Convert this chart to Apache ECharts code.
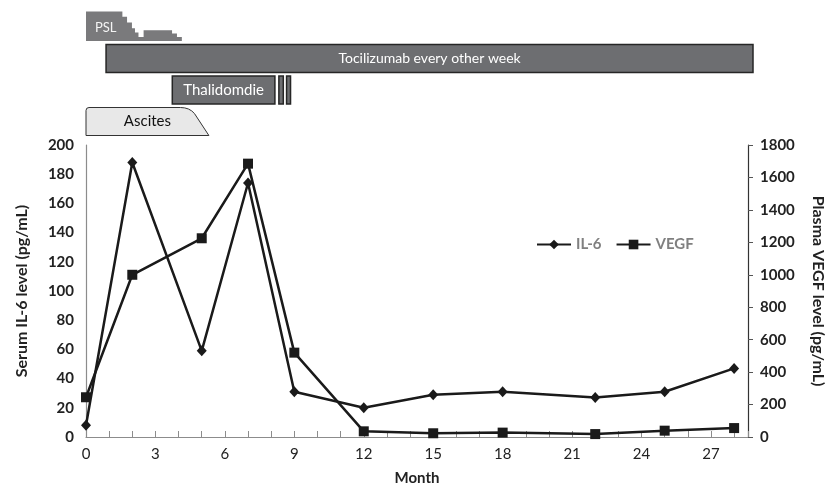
<!DOCTYPE html>
<html>
<head>
<meta charset="utf-8">
<script src="https://cdn.jsdelivr.net/npm/echarts@6/dist/echarts.min.js"></script>
<style>
  html, body { margin: 0; padding: 0; background: #fff; }
  #chart { width: 834px; height: 494px; }
</style>
</head>
<body>
<div id="chart"></div>
<script>
// measured values (month of sample)
const months = [0, 2, 5, 7, 9, 12, 15, 18, 22, 25, 28];
const il6 = [8, 188, 59, 174, 31, 20, 29, 31, 27, 31, 47];
const vegf = [245, 1000, 1225, 1685, 520, 35, 23, 27, 18, 39, 55];

// treatment timeline (months)
const treatmentRows = ['PSL', 'Tocilizumab', 'Thalidomide', 'Ascites'];
const pslSteps = [ // [from, to, dose]
    [0, 1.56, 30], [1.56, 1.76, 24.5], [1.76, 1.97, 18.7], [1.97, 2.1, 13],
    [2.1, 2.25, 8.5], [2.25, 2.47, 4], [2.47, 3.69, 11], [3.69, 3.9, 7.5], [3.9, 4.11, 4]
];
const tocilizumab = [0.86, 28.6];
const thalidomide = [[3.7, 8.1], [8.27, 8.46], [8.6, 8.77]];
const ascites = [0, 4.05, 5.27]; // start, plateau end, resolved

const X_MAX = 28.6;
const FONT = 'Lato';
const BAR_FILL = '#6d6e71';
const BAR_STROKE = '#262626';

const chart = echarts.init(document.getElementById('chart'));

// helpers for the timeline rows
const rowBox = (api, row) => {
    const c = api.coord([0, row]);
    const band = api.size([0, 1])[1];
    const bottom = c[1] + band / 2 - 0.5;
    return { bottom, top: bottom - 28, band };
};
const xPix = (api, v) => api.coord([v, 0])[0];

const renderPSL = (params, api) => {
    const b = rowBox(api, 0);
    const unit = b.band * 0.94 / 30;
    const pts = [[xPix(api, pslSteps[0][0]), b.bottom]];
    pslSteps.forEach(s => {
        pts.push([xPix(api, s[0]), b.bottom - s[2] * unit]);
        pts.push([xPix(api, s[1]), b.bottom - s[2] * unit]);
    });
    pts.push([xPix(api, pslSteps[pslSteps.length - 1][1]), b.bottom]);
    return {
        type: 'group',
        children: [
            { type: 'polygon', shape: { points: pts }, style: { fill: '#7a7a7c' } },
            { type: 'text', style: { text: 'PSL', x: xPix(api, 0) + 9, y: b.bottom - 13, align: 'left', verticalAlign: 'middle', fill: '#f4f4f4', font: '13px ' + FONT } }
        ]
    };
};

const renderToci = (params, api) => {
    const b = rowBox(api, 1);
    const x0 = xPix(api, tocilizumab[0]), x1 = xPix(api, tocilizumab[1]);
    return {
        type: 'group',
        children: [
            { type: 'rect', shape: { x: x0, y: b.top, width: x1 - x0, height: b.bottom - b.top }, style: { fill: BAR_FILL, stroke: BAR_STROKE, lineWidth: 1.5 } },
            { type: 'text', style: { text: 'Tocilizumab every other week', x: (x0 + x1) / 2, y: (b.top + b.bottom) / 2, align: 'center', verticalAlign: 'middle', fill: '#ffffff', font: '14px ' + FONT } }
        ]
    };
};

const renderThal = (params, api) => {
    const b = rowBox(api, 2);
    const children = thalidomide.map(t => {
        const x0 = xPix(api, t[0]), x1 = xPix(api, t[1]);
        return { type: 'rect', shape: { x: x0, y: b.top, width: x1 - x0, height: b.bottom - b.top }, style: { fill: BAR_FILL, stroke: BAR_STROKE, lineWidth: 1.5 } };
    });
    const m0 = xPix(api, thalidomide[0][0]), m1 = xPix(api, thalidomide[0][1]);
    children.push({ type: 'text', style: { text: 'Thalidomdie', x: (m0 + m1) / 2, y: (b.top + b.bottom) / 2, align: 'center', verticalAlign: 'middle', fill: '#ffffff', font: '15px ' + FONT } });
    return { type: 'group', children };
};

const renderAscites = (params, api) => {
    const b = rowBox(api, 3);
    const x0 = xPix(api, ascites[0]), xp = xPix(api, ascites[1]), xe = xPix(api, ascites[2]);
    const t = b.top, bo = b.bottom;
    const path = `M${x0},${bo} L${x0},${t + 3} Q${x0},${t} ${x0 + 3},${t} L${xp},${t} Q${xp + 9},${t} ${xp + 14},${t + 6} L${xe},${bo} Z`;
    return {
        type: 'group',
        children: [
            { type: 'path', shape: { pathData: path }, style: { fill: '#e8e8e8', stroke: '#333', lineWidth: 1 } },
            { type: 'text', style: { text: 'Ascites', x: (x0 + xe) / 2, y: (t + bo) / 2, align: 'center', verticalAlign: 'middle', fill: '#111', font: '15px ' + FONT } }
        ]
    };
};

const timelineSeries = (name, render) => ({
    name, type: 'custom', xAxisIndex: 1, yAxisIndex: 2,
    renderItem: render, data: [[0, 0]], encode: { x: 0, y: 1 },
    silent: true, z: 1
});

chart.setOption({
    animation: false,
    textStyle: { fontFamily: FONT },
    grid: [
        { left: 86, right: 81, top: 145, bottom: 57 },
        { left: 86, right: 81, top: 10, height: 126 }
    ],
    legend: {
        data: ['IL-6', 'VEGF'],
        left: 531, top: 232,
        itemWidth: 34, itemHeight: 12, itemGap: 14,
        textStyle: { fontFamily: FONT, fontWeight: 'bold', fontSize: 15, color: '#808080' }
    },
    xAxis: [
        {
            type: 'value', gridIndex: 0, min: 0, max: X_MAX, interval: 1,
            name: 'Month', nameLocation: 'middle', nameGap: 34,
            nameTextStyle: { fontFamily: FONT, fontWeight: 'bold', fontSize: 15, color: '#222' },
            axisLine: { lineStyle: { color: '#8c8c8c', width: 1.2 } },
            axisTick: { inside: true, length: 6, lineStyle: { color: '#8c8c8c' } },
            axisLabel: { fontSize: 15, color: '#222', margin: 10, formatter: v => (v % 3 === 0 ? String(v) : '') },
            splitLine: { show: false }
        },
        { type: 'value', gridIndex: 1, min: 0, max: X_MAX, show: false }
    ],
    yAxis: [
        {
            type: 'value', gridIndex: 0, min: 0, max: 200, interval: 20,
            name: 'Serum IL-6 level (pg/mL)', nameLocation: 'middle', nameGap: 56, nameRotate: 90,
            nameTextStyle: { fontFamily: FONT, fontWeight: 'bold', fontSize: 16, color: '#222' },
            axisLine: { show: true, lineStyle: { color: '#8c8c8c', width: 1.2 } },
            axisTick: { show: false },
            axisLabel: { fontSize: 15, fontWeight: 'bold', color: '#222', margin: 12, formatter: v => String(v) },
            splitLine: { show: false }
        },
        {
            type: 'value', gridIndex: 0, position: 'right', min: 0, max: 1800, interval: 200,
            name: 'Plasma VEGF level (pg/mL)', nameLocation: 'middle', nameGap: 62, nameRotate: -90,
            nameTextStyle: { fontFamily: FONT, fontWeight: 'bold', fontSize: 16, color: '#222' },
            axisLine: { show: true, lineStyle: { color: '#333', width: 1.2 } },
            axisTick: { show: true, length: 5, lineStyle: { color: '#555' } },
            axisLabel: { fontSize: 15, fontWeight: 'bold', color: '#222', margin: 12, formatter: v => String(v) },
            splitLine: { show: false }
        },
        { type: 'category', gridIndex: 1, data: treatmentRows, inverse: true, show: false }
    ],
    series: [
        timelineSeries('PSL', renderPSL),
        timelineSeries('Tocilizumab', renderToci),
        timelineSeries('Thalidomide', renderThal),
        timelineSeries('Ascites', renderAscites),
        {
            name: 'IL-6', type: 'line', xAxisIndex: 0, yAxisIndex: 0,
            data: months.map((m, i) => [m, il6[i]]),
            symbol: 'diamond', symbolSize: [10, 11],
            lineStyle: { color: '#1a1a1a', width: 2.5 },
            itemStyle: { color: '#1a1a1a' }, z: 3
        },
        {
            name: 'VEGF', type: 'line', xAxisIndex: 0, yAxisIndex: 1,
            data: months.map((m, i) => [m, vegf[i]]),
            symbol: 'rect', symbolSize: 10,
            lineStyle: { color: '#1a1a1a', width: 2.5 },
            itemStyle: { color: '#1a1a1a' }, z: 3
        }
    ]
});

window.addEventListener('resize', () => chart.resize());
</script>
</body>
</html>
